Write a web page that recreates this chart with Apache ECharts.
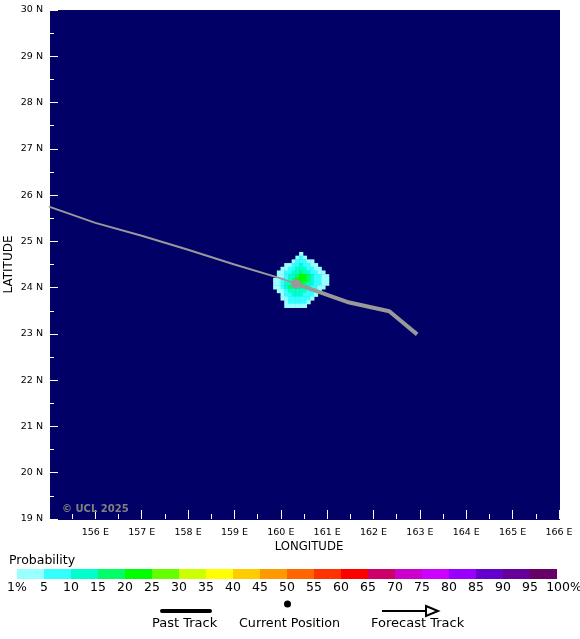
<!DOCTYPE html>
<html>
<head>
<meta charset="utf-8">
<style>
html, body { margin: 0; padding: 0; background: #fff; }
#main { width: 580px; height: 639px; }
</style>
<script src="https://cdn.jsdelivr.net/npm/echarts@6/dist/echarts.min.js"></script>
</head>
<body>
<div id="main"></div>
<script>
// 轨迹 (lon, lat)
var pastTrack = [[155, 25.75], [156, 25.4], [157, 25.12], [158, 24.82], [159, 24.5], [160, 24.2], [160.33, 24.08]];
var forecastTrack = [[160.33, 24.08], [161.43, 23.69], [162.34, 23.49], [162.94, 22.99]];
var currentPosition = [[160.33, 24.08]];

// probability field, one row per 0.08 deg
var heatLonStart = 159.834;
var heatLatStart = 24.771;
var heatStep = 0.08;
var heatRows = [
    [0, 0, 0, 0, 0, 0, 0, 3, 0, 0, 0, 0, 0, 0, 0],
    [0, 0, 0, 0, 0, 0, 3, 7, 3, 0, 0, 0, 0, 0, 0],
    [0, 0, 0, 0, 0, 3, 7, 7, 7, 3, 3, 0, 0, 0, 0],
    [0, 0, 0, 3, 3, 7, 7, 12, 7, 7, 3, 3, 0, 0, 0],
    [0, 0, 3, 3, 7, 7, 12, 12, 12, 7, 7, 3, 3, 0, 0],
    [0, 3, 3, 7, 7, 12, 12, 17, 12, 12, 7, 7, 3, 3, 0],
    [0, 3, 3, 7, 12, 12, 17, 22, 22, 17, 12, 7, 7, 3, 3],
    [3, 3, 7, 7, 12, 17, 22, 22, 22, 17, 12, 7, 7, 3, 3],
    [3, 3, 7, 12, 12, 17, 22, 22, 17, 12, 12, 7, 7, 3, 3],
    [3, 3, 7, 12, 17, 17, 17, 17, 12, 12, 7, 7, 3, 3, 0],
    [0, 3, 3, 7, 12, 12, 12, 12, 12, 7, 7, 7, 3, 0, 0],
    [0, 0, 3, 7, 7, 12, 12, 12, 7, 7, 7, 3, 0, 0, 0],
    [0, 0, 3, 3, 7, 7, 7, 7, 7, 7, 3, 0, 0, 0, 0],
    [0, 0, 0, 3, 7, 7, 7, 7, 7, 3, 0, 0, 0, 0, 0],
    [0, 0, 0, 3, 3, 3, 3, 3, 3, 0, 0, 0, 0, 0, 0]
];

// 色标
var probLabels = ['1%', '5', '10', '15', '20', '25', '30', '35', '40', '45', '50', '55', '60', '65', '70', '75', '80', '85', '90', '95', '100%'];
var probBreaks = [1, 5, 10, 15, 20, 25, 30, 35, 40, 45, 50, 55, 60, 65, 70, 75, 80, 85, 90, 95, 100];
var probColors = ['#99ffff', '#33ffff', '#00ffcc', '#00ff66', '#00ff00', '#66ff00', '#ccff00', '#ffff00', '#ffcc00', '#ff9900',
    '#ff6600', '#ff3300', '#ff0000', '#cc0066', '#cc00cc', '#cc00ff', '#9900ff', '#6600cc', '#660099', '#660066'];

var fontName = '"DejaVu Sans", sans-serif';

function colorOf(v) {
    for (var i = 0; i < probColors.length; i++) {
        if (v >= probBreaks[i] && v < probBreaks[i + 1]) return probColors[i];
    }
    return probColors[probColors.length - 1];
}

var heatData = [];
heatRows.forEach(function (row, r) {
    row.forEach(function (v, c) {
        if (v > 0) heatData.push([heatLonStart + c * heatStep, heatLatStart - r * heatStep, v]);
    });
});

var barData = probColors.map(function (c, i) {
    return [i, i + 1];
});

var myChart = echarts.init(document.getElementById('main'), null, { renderer: 'canvas' });

var option = {
    animation: false,
    backgroundColor: '#ffffff',
    grid: [
        { left: 49, top: 10, width: 510, height: 509, show: false, outerBoundsMode: 'none' },
        { left: 17, top: 569, width: 540, height: 10, show: false, outerBoundsMode: 'none' }
    ],
    xAxis: [{
        gridIndex: 0,
        type: 'value',
        min: 155,
        max: 166,
        interval: 1,
        splitLine: { show: false },
        axisLine: { show: false },
        axisTick: { show: true, inside: true, length: 9, lineStyle: { color: '#ffffff', width: 1 } },
        minorTick: { show: true, splitNumber: 2, length: 5, lineStyle: { color: '#ffffff', width: 1 } },
        axisLabel: {
            showMinLabel: false,
            margin: 9,
            color: '#000',
            fontFamily: fontName,
            fontSize: 9.5,
            formatter: function (v) { return v + ' E'; }
        },
        name: 'LONGITUDE',
        nameLocation: 'middle',
        nameGap: 22,
        nameMoveOverlap: false,
        nameTextStyle: { color: '#000', fontFamily: fontName, fontSize: 11.7, padding: [0, 0, 0, 10] }
    }, {
        gridIndex: 1,
        type: 'value',
        min: 0,
        max: 20,
        interval: 1,
        splitLine: { show: false },
        axisLine: { show: false },
        axisTick: { show: false },
        axisLabel: {
            margin: 2,
            color: '#000',
            fontFamily: fontName,
            fontSize: 12.5,
            hideOverlap: false,
            formatter: function (v) {
                if (v === 20) return '{last|' + probLabels[v] + '}';
                return probLabels[v];
            },
            rich: {
                last: { color: '#000', fontFamily: fontName, fontSize: 12.5, padding: [0, 0, 0, 14] }
            }
        }
    }],
    yAxis: [{
        gridIndex: 0,
        type: 'value',
        min: 19,
        max: 30,
        interval: 1,
        splitLine: { show: false },
        axisLine: { show: false },
        axisTick: { show: true, inside: true, length: 9, lineStyle: { color: '#ffffff', width: 1 } },
        minorTick: { show: true, splitNumber: 2, length: 5, lineStyle: { color: '#ffffff', width: 1 } },
        axisLabel: {
            margin: 6,
            color: '#000',
            fontFamily: fontName,
            fontSize: 9.5,
            formatter: function (v) { return v + ' N'; }
        },
        name: 'LATITUDE',
        nameLocation: 'middle',
        nameRotate: 90,
        nameGap: 34,
        nameMoveOverlap: false,
        nameTextStyle: { color: '#000', fontFamily: fontName, fontSize: 12 }
    }, {
        gridIndex: 1,
        type: 'value',
        min: 0,
        max: 1,
        show: false
    }],
    series: [{
        // 概率场
        type: 'custom',
        xAxisIndex: 0,
        yAxisIndex: 0,
        z: 2,
        silent: true,
        data: heatData,
        encode: { x: 0, y: 1 },
        renderItem: function (params, api) {
            var p0 = api.coord([api.value(0), api.value(1)]);
            var p1 = api.coord([api.value(0) + heatStep, api.value(1) - heatStep]);
            return {
                type: 'rect',
                shape: { x: p0[0], y: p0[1], width: p1[0] - p0[0] + 0.5, height: p1[1] - p0[1] + 0.5 },
                style: { fill: colorOf(api.value(2)) }
            };
        }
    }, {
        name: 'Past Track',
        type: 'line',
        xAxisIndex: 0,
        yAxisIndex: 0,
        z: 3,
        data: pastTrack,
        showSymbol: false,
        lineStyle: { color: '#999999', width: 2 }
    }, {
        name: 'Forecast Track',
        type: 'line',
        xAxisIndex: 0,
        yAxisIndex: 0,
        z: 3,
        data: forecastTrack,
        showSymbol: false,
        lineStyle: { color: '#999999', width: 4 }
    }, {
        name: 'Current Position',
        type: 'scatter',
        xAxisIndex: 0,
        yAxisIndex: 0,
        z: 4,
        data: currentPosition,
        symbol: 'circle',
        symbolSize: 10,
        itemStyle: { color: '#999999', opacity: 1 }
    }, {
        // 色标条
        type: 'custom',
        xAxisIndex: 1,
        yAxisIndex: 1,
        silent: true,
        data: barData,
        encode: { x: [0, 1] },
        renderItem: function (params, api) {
            var p0 = api.coord([api.value(0), 1]);
            var p1 = api.coord([api.value(1), 0]);
            return {
                type: 'rect',
                shape: { x: p0[0], y: p0[1], width: p1[0] - p0[0], height: p1[1] - p0[1] },
                style: { fill: probColors[params.dataIndex] }
            };
        }
    }],
    graphic: [
        { type: 'rect', z: -1, shape: { x: 50, y: 10, width: 510, height: 510 }, style: { fill: '#000066' } },
        { type: 'text', left: 62, top: 504, z: 10, style: { text: '\u00a9 UCL 2025', fill: '#808080', font: 'bold 10px ' + fontName } },
        { type: 'text', left: 9, top: 554, style: { text: 'Probability', fill: '#000', font: '12.5px ' + fontName } },
        { type: 'line', shape: { x1: 162, y1: 611, x2: 210, y2: 611 }, style: { stroke: '#000', lineWidth: 4, lineCap: 'round' } },
        { type: 'circle', shape: { cx: 287.5, cy: 604, r: 3.5 }, style: { fill: '#000' } },
        { type: 'line', shape: { x1: 382, y1: 611, x2: 426, y2: 611 }, style: { stroke: '#000', lineWidth: 2 } },
        { type: 'polygon', shape: { points: [[426, 606], [438, 611], [426, 616]] }, style: { fill: '#fff', stroke: '#000', lineWidth: 2 } },
        { type: 'text', left: 152, top: 617, style: { text: 'Past Track', fill: '#000', font: '13px ' + fontName } },
        { type: 'text', left: 239, top: 617, style: { text: 'Current Position', fill: '#000', font: '12.7px ' + fontName } },
        { type: 'text', left: 371, top: 617, style: { text: 'Forecast Track', fill: '#000', font: '13px ' + fontName } }
    ]
};
myChart.setOption(option);
</script>
</body>
</html>
